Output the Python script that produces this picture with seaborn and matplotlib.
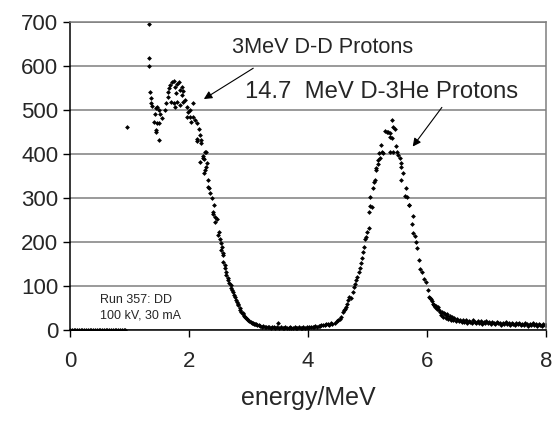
import matplotlib
matplotlib.use("Agg")
import matplotlib.pyplot as plt
import seaborn as sns

# zero region below threshold
energy_low = [0.00, 0.03, 0.06, 0.09, 0.12, 0.15, 0.18, 0.21, 0.24, 0.27, 0.30, 0.33,
              0.36, 0.39, 0.42, 0.45, 0.48, 0.51, 0.54, 0.57, 0.60, 0.63, 0.66, 0.69,
              0.72, 0.75, 0.78, 0.81, 0.84, 0.87, 0.90, 0.93]
counts_low = [0, 0, 1, 0, 0, 0, 1, 0, 0, 0, 0, 1,
              0, 0, 0, 1, 0, 0, 0, 0, 1, 0, 0, 0,
              1, 0, 0, 0, 1, 0, 0, 1]

# 3 MeV D-D proton peak
energy_dd = [0.96, 1.32, 1.33, 1.33, 1.345, 1.36, 1.37, 1.38, 1.41, 1.43, 1.44, 1.44, 1.45,
             1.46, 1.47, 1.50, 1.50, 1.50, 1.51, 1.54, 1.60, 1.62, 1.64, 1.65, 1.67,
             1.68, 1.69, 1.71, 1.74, 1.74, 1.76, 1.77, 1.78, 1.80, 1.80, 1.84, 1.85,
             1.85, 1.88, 1.89, 1.90, 1.90, 1.93, 1.96, 1.96, 1.99, 2.02, 2.02, 2.04,
             2.07, 2.07, 2.10, 2.13, 2.13, 2.13, 2.16, 2.18, 2.18, 2.21, 2.21, 2.23,
             2.24, 2.25, 2.25, 2.27, 2.27, 2.29, 2.29, 2.30, 2.32, 2.32, 2.34, 2.36,
             2.38, 2.40, 2.41, 2.42, 2.44, 2.44, 2.47, 2.49, 2.51, 2.52, 2.53, 2.53,
             2.55, 2.57, 2.58, 2.58, 2.60, 2.61, 2.62, 2.63, 2.65, 2.66, 2.68, 2.70,
             2.71, 2.73, 2.74, 2.76, 2.77, 2.79, 2.80, 2.82, 2.83, 2.85, 2.86, 2.88,
             2.90, 2.90, 2.93, 2.94, 2.96, 2.98, 3.00, 3.01, 3.04, 3.06, 3.07, 3.10,
             3.11, 3.13, 3.15, 3.17]
counts_dd = [461, 695, 619, 600, 542, 527, 515, 509, 473, 492, 504, 451, 455,
             470, 506, 432, 470, 500, 492, 481, 500, 515, 530, 542, 549,
             557, 519, 564, 567, 515, 553, 507, 539, 560, 519, 564, 545,
             511, 534, 553, 544, 519, 523, 507, 485, 496, 500, 485, 473,
             515, 485, 477, 470, 435, 430, 458, 443, 383, 432, 424, 395,
             390, 388, 356, 405, 364, 405, 371, 380, 341, 326, 322, 311,
             299, 269, 264, 284, 258, 246, 252, 216, 223, 208, 197, 182,
             189, 174, 170, 155, 148, 140, 132, 125, 118, 113, 108, 102,
             96, 91, 86, 80, 75, 68, 64, 60, 57, 50, 45, 42,
             38, 36, 33, 30, 28, 25, 23, 21, 19, 17, 16, 14,
             14, 13, 11, 11]

# valley between peaks
energy_mid = [3.20, 3.23, 3.25, 3.28, 3.30, 3.33, 3.35, 3.38, 3.40, 3.43, 3.45, 3.48,
              3.50, 3.52, 3.55, 3.58, 3.60, 3.62, 3.65, 3.68, 3.70, 3.72, 3.75, 3.78,
              3.80, 3.82, 3.85, 3.88, 3.90, 3.92, 3.95, 3.98, 4.00, 4.02, 4.05, 4.08,
              4.10, 4.12, 4.15, 4.18, 4.20, 4.22, 4.25, 4.28, 4.30, 4.33, 4.35, 4.38]
counts_mid = [10, 8, 9, 7, 8, 6, 7, 5, 7, 6, 5, 6,
              15, 5, 6, 4, 5, 6, 4, 5, 6, 4, 5, 6,
              4, 5, 6, 5, 4, 6, 5, 7, 5, 6, 8, 6,
              7, 9, 8, 10, 9, 11, 12, 11, 13, 14, 12, 15]

# 14.7 MeV D-3He proton peak
energy_dhe = [4.40, 4.45, 4.48, 4.51, 4.54, 4.56, 4.58, 4.60, 4.62, 4.64, 4.66, 4.68,
              4.69, 4.72, 4.75, 4.77, 4.79, 4.81, 4.82, 4.85, 4.87, 4.89, 4.91, 4.92,
              4.94, 4.96, 4.98, 5.00, 5.02, 5.03, 5.05, 5.05, 5.07, 5.10, 5.11, 5.12,
              5.14, 5.15, 5.18, 5.18, 5.20, 5.21, 5.22, 5.24, 5.26, 5.29, 5.32, 5.35,
              5.37, 5.38, 5.38, 5.41, 5.41, 5.43, 5.43, 5.46, 5.48, 5.50, 5.52, 5.54,
              5.56, 5.57, 5.57, 5.59, 5.63, 5.65, 5.66, 5.69, 5.70, 5.74, 5.76, 5.76,
              5.80, 5.81, 5.84, 5.87, 5.89, 5.92, 5.95, 5.99, 6.01, 6.04, 6.05, 6.07,
              6.08, 6.10, 6.11, 6.12, 6.13, 6.15, 6.16, 6.17, 6.19, 6.21]
counts_dhe = [14, 16, 20, 24, 26, 29, 40, 45, 48, 52, 60, 68,
              75, 72, 87, 98, 105, 114, 121, 133, 140, 152, 163, 178,
              189, 206, 212, 223, 233, 269, 282, 302, 280, 322, 337, 342,
              369, 364, 386, 378, 403, 390, 420, 405, 403, 453, 449, 451,
              439, 447, 405, 477, 436, 462, 405, 458, 418, 405, 398, 390,
              380, 371, 342, 356, 305, 322, 303, 284, 284, 241, 259, 220,
              214, 201, 186, 159, 138, 132, 117, 110, 92, 76, 72, 70,
              65, 60, 57, 57, 52, 55, 50, 48, 52, 45]

# high-energy tail
energy_tail = [6.22, 6.24, 6.26, 6.27, 6.28, 6.30, 6.32, 6.33, 6.34, 6.36, 6.38, 6.39,
               6.40, 6.42, 6.44, 6.46, 6.48, 6.50, 6.53, 6.55, 6.58, 6.60, 6.63, 6.65,
               6.68, 6.70, 6.73, 6.75, 6.78, 6.80, 6.83, 6.85, 6.88, 6.90, 6.93, 6.95,
               6.98, 7.00, 7.03, 7.05, 7.08, 7.10, 7.13, 7.15, 7.18, 7.20, 7.23, 7.25,
               7.28, 7.30, 7.33, 7.35, 7.38, 7.40, 7.43, 7.45, 7.48, 7.50, 7.53, 7.55,
               7.58, 7.60, 7.63, 7.65, 7.68, 7.70, 7.73, 7.75, 7.78, 7.80, 7.83, 7.85,
               7.88, 7.90, 7.93, 7.95, 7.98, 8.00]
counts_tail = [42, 35, 40, 30, 38, 36, 28, 37, 33, 26, 31, 27,
               24, 29, 22, 27, 21, 25, 20, 24, 19, 22, 18, 23,
               17, 21, 19, 16, 22, 18, 15, 20, 17, 21, 14, 19,
               16, 20, 15, 18, 14, 19, 16, 13, 18, 15, 17, 12,
               16, 14, 18, 13, 15, 12, 17, 14, 11, 15, 13, 16,
               12, 14, 11, 15, 13, 10, 14, 12, 15, 11, 13, 10,
               14, 12, 9, 13, 11, 12]

energy = energy_low + energy_dd + energy_mid + energy_dhe + energy_tail
counts = counts_low + counts_dd + counts_mid + counts_dhe + counts_tail

x_ticks = [0, 2, 4, 6, 8]
y_ticks = [0, 100, 200, 300, 400, 500, 600, 700]

sns.set_theme(style="white")
plt.rcParams['font.family'] = ['Liberation Sans', 'DejaVu Sans']

fig = plt.figure(figsize=(5.58, 4.21), dpi=100)
ax = fig.add_axes([0.1254, 0.216, 0.8531, 0.7317])

sns.scatterplot(x=energy, y=counts, marker='D', s=6, color='black',
                linewidth=0, ax=ax)

ax.set_xlim(0, 8)
ax.set_ylim(0, 700)
ax.set_xticks(x_ticks)
ax.set_yticks(y_ticks)
ax.tick_params(axis='both', labelsize=16, length=5, width=1, direction='out',
               color='black', left=True, bottom=True)
ax.tick_params(axis='x', pad=10)
ax.yaxis.grid(True, color='#7f7f7f', linewidth=1.1)
ax.set_axisbelow(True)
for side in ['left', 'bottom']:
    ax.spines[side].set_color('black')
    ax.spines[side].set_linewidth(1.1)
for side in ['top', 'right']:
    ax.spines[side].set_color('#7f7f7f')
    ax.spines[side].set_linewidth(1.1)

ax.set_xlabel('energy/MeV', fontsize=18, labelpad=10)
ax.set_ylabel('')

arrow = dict(arrowstyle='-|>', color='black', lw=0.8, mutation_scale=12,
             shrinkA=0, shrinkB=0)
ax.annotate('', xy=(2.25, 525), xytext=(3.08, 595), arrowprops=arrow)
ax.annotate('', xy=(5.76, 417), xytext=(6.25, 506), arrowprops=arrow)
ax.text(2.72, 641, '3MeV D-D Protons', fontsize=15.6, va='center', ha='left')
ax.text(2.94, 541, '14.7  MeV D-3He Protons', fontsize=17.2, va='center', ha='left')
ax.text(0.50, 68, 'Run 357: DD', fontsize=9, va='center', ha='left')
ax.text(0.50, 34, '100 kV, 30 mA', fontsize=9, va='center', ha='left')

fig.savefig('out.png', dpi=100)
